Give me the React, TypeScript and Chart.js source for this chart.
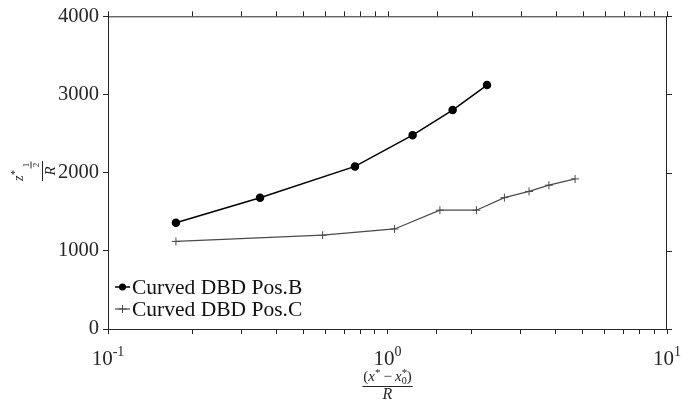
import { useEffect, useRef } from 'react';
import { Chart, registerables } from 'chart.js';

Chart.register(...registerables);

// ---- data ----
const xB = [0.175, 0.35, 0.765, 1.23, 1.71, 2.27];
const yB = [1360, 1680, 2080, 2480, 2800, 3120];
const xC = [0.175, 0.586, 1.06, 1.54, 2.08, 2.62, 3.21, 3.78, 4.69];
const yC = [1120, 1200, 1280, 1520, 1520, 1680, 1760, 1840, 1920];
const seriesLabels = ['Curved DBD Pos.B', 'Curved DBD Pos.C'];
const xMajorTicks = [0.1, 1, 10];
const xTickExponents = ['-1', '0', '1'];
const yTickStep = 1000;
const yMin = 0;
const yMax = 4000;

const SERIF = '"Liberation Serif", "Times New Roman", serif';
const AX = '#262626';

type Run = { t: string; size: number; italic?: boolean; dy?: number; adv?: boolean; pad?: number };

function fontOf(r: Run) {
  return `${r.italic ? 'italic ' : ''}${r.size}px ${SERIF}`;
}

function runAdvance(ctx: CanvasRenderingContext2D, r: Run) {
  ctx.font = fontOf(r);
  return (r.adv === false ? 0 : ctx.measureText(r.t).width) + (r.pad || 0);
}

function drawRuns(ctx: CanvasRenderingContext2D, runs: Run[], cx: number, baseline: number) {
  let w = 0;
  for (const r of runs) w += runAdvance(ctx, r);
  let x = cx - w / 2;
  ctx.textAlign = 'left';
  ctx.textBaseline = 'alphabetic';
  for (const r of runs) {
    ctx.font = fontOf(r);
    ctx.fillText(r.t, x, baseline + (r.dy || 0));
    x += runAdvance(ctx, r);
  }
  return w;
}

const decorPlugin = {
  id: 'decor',
  afterDraw(chart: any) {
    const ctx: CanvasRenderingContext2D = chart.ctx;
    const { left, right, top, bottom } = chart.chartArea;
    const xs = chart.scales.x;
    const ys = chart.scales.y;
    ctx.save();
    ctx.strokeStyle = AX;
    ctx.fillStyle = AX;
    ctx.lineWidth = 1;
    // box top + right
    ctx.beginPath();
    ctx.moveTo(left, top + 0.5);
    ctx.lineTo(right, top + 0.5);
    ctx.moveTo(right - 0.5, top);
    ctx.lineTo(right - 0.5, bottom);
    ctx.stroke();
    // mirrored outward ticks
    ctx.beginPath();
    for (const t of xs.ticks) {
      const px = Math.round(xs.getPixelForValue(t.value)) + 0.5;
      ctx.moveTo(px, top);
      ctx.lineTo(px, top - 5);
    }
    for (const t of ys.ticks) {
      const py = Math.round(ys.getPixelForValue(t.value)) + 0.5;
      ctx.moveTo(right, py);
      ctx.lineTo(right + 5, py);
    }
    ctx.stroke();

    // x tick labels 10^n
    xMajorTicks.forEach((v, i) => {
      const px = xs.getPixelForValue(v);
      drawRuns(ctx, [
        { t: '10', size: 21 },
        { t: xTickExponents[i], size: 14, dy: -9 },
      ], px, 365);
    });

    // x axis title: (x* - x0*) / R
    const cx = (left + right) / 2;
    const numRuns: Run[] = [
      { t: '(', size: 15 },
      { t: 'x', size: 15, italic: true },
      { t: '*', size: 11, dy: -5, pad: 3 },
      { t: '\u2212', size: 15, pad: 3 },
      { t: 'x', size: 15, italic: true },
      { t: '*', size: 11, dy: -5, adv: false },
      { t: '0', size: 10, dy: 3 },
      { t: ')', size: 15 },
    ];
    const nw = drawRuns(ctx, numRuns, cx, 381);
    ctx.beginPath();
    ctx.moveTo(cx - nw / 2 - 1, 386.5);
    ctx.lineTo(cx + nw / 2 + 1, 386.5);
    ctx.stroke();
    drawRuns(ctx, [{ t: 'R', size: 16, italic: true }], cx, 399);

    // y axis title: z*_{1/2} / R (rotated)
    ctx.save();
    ctx.translate(42, 171);
    ctx.rotate(-Math.PI / 2);
    ctx.beginPath();
    ctx.moveTo(-10, 0.5);
    ctx.lineTo(10, 0.5);
    ctx.stroke();
    ctx.textAlign = 'left';
    ctx.textBaseline = 'alphabetic';
    ctx.font = `italic 14px ${SERIF}`;
    ctx.fillText('z', -10, -19);
    ctx.font = `10px ${SERIF}`;
    ctx.fillText('*', -4, -24);
    ctx.textAlign = 'center';
    ctx.font = `9px ${SERIF}`;
    ctx.fillText('1', 6, -13);
    ctx.fillText('2', 6, -3);
    ctx.beginPath();
    ctx.moveTo(2.5, -11);
    ctx.lineTo(9.5, -11);
    ctx.stroke();
    ctx.font = `italic 15px ${SERIF}`;
    ctx.fillText('R', 0, 13);
    ctx.restore();

    // legend
    const legendY = [287, 309];
    chart.data.datasets.forEach((ds: any, i: number) => {
      const y = legendY[i];
      ctx.strokeStyle = ds.borderColor;
      ctx.lineWidth = ds.borderWidth;
      ctx.beginPath();
      ctx.moveTo(115, y);
      ctx.lineTo(130, y);
      ctx.stroke();
      if (ds.pointStyle === 'circle') {
        ctx.fillStyle = ds.pointBackgroundColor;
        ctx.beginPath();
        ctx.arc(122.5, y, ds.pointRadius, 0, Math.PI * 2);
        ctx.fill();
      } else {
        ctx.lineWidth = 1;
        ctx.beginPath();
        ctx.moveTo(122.5 - ds.pointRadius, y);
        ctx.lineTo(122.5 + ds.pointRadius, y);
        ctx.moveTo(122.5, y - ds.pointRadius);
        ctx.lineTo(122.5, y + ds.pointRadius);
        ctx.stroke();
      }
      ctx.fillStyle = '#111';
      ctx.font = `21.5px ${SERIF}`;
      ctx.textAlign = 'left';
      ctx.textBaseline = 'middle';
      ctx.fillText(ds.label, 132, y + 1);
    });
    ctx.restore();
  },
};

export default function App() {
  const ref = useRef<HTMLCanvasElement>(null);
  useEffect(() => {
    if (!ref.current) return;
    const chart = new Chart(ref.current, {
      type: 'line',
      data: {
        datasets: [
          {
            label: seriesLabels[0],
            data: xB.map((x, i) => ({ x, y: yB[i] })),
            borderColor: '#000000',
            backgroundColor: '#000000',
            pointBackgroundColor: '#000000',
            pointBorderColor: '#000000',
            borderWidth: 1.5,
            pointStyle: 'circle',
            pointRadius: 3.5,
            tension: 0,
          },
          {
            label: seriesLabels[1],
            data: xC.map((x, i) => ({ x, y: yC[i] })),
            borderColor: '#4a4a4a',
            backgroundColor: '#4a4a4a',
            pointBackgroundColor: '#4a4a4a',
            pointBorderColor: '#4a4a4a',
            pointBorderWidth: 1,
            borderWidth: 1.2,
            pointStyle: 'cross',
            pointRadius: 4,
            tension: 0,
          },
        ] as any,
      },
      options: {
        animation: false,
        responsive: true,
        maintainAspectRatio: false,
        layout: { padding: { top: 13, right: 32, left: 0, bottom: 0 } },
        plugins: { legend: { display: false }, tooltip: { enabled: false } },
        scales: {
          x: {
            type: 'logarithmic',
            min: 0.1,
            max: 10,
            grid: { drawOnChartArea: false, drawTicks: true, tickLength: 5, color: AX, lineWidth: 1 },
            border: { color: AX, width: 1 },
            ticks: { display: false, autoSkip: false },
            afterFit: (s: any) => { s.height = 75; },
          },
          y: {
            min: yMin,
            max: yMax,
            grid: { drawOnChartArea: false, drawTicks: true, tickLength: 5, color: AX, lineWidth: 1 },
            border: { color: AX, width: 1 },
            ticks: {
              stepSize: yTickStep,
              color: AX,
              padding: 4,
              font: { family: SERIF, size: 20.5 },
              callback: (v: any) => String(v),
            },
            afterFit: (s: any) => { s.width = 108; },
          },
        },
      } as any,
      plugins: [decorPlugin],
    });
    return () => chart.destroy();
  }, []);
  return (
    <div style={{ position: 'fixed', left: 0, top: 0, width: 699, height: 404, background: '#fff' }}>
      <canvas ref={ref} />
    </div>
  );
}
